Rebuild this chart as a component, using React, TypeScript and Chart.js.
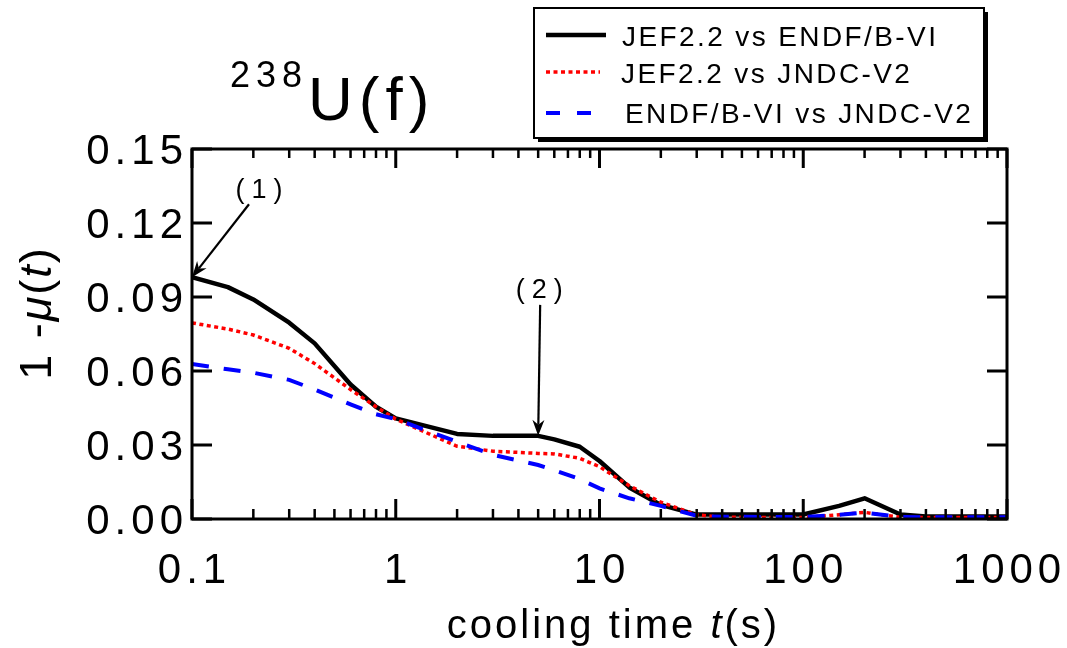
import React, { useEffect, useRef } from "react";
import { Chart, registerables } from "chart.js";

Chart.register(...registerables);

// ---- data ----
const coolingTimes = [0.1, 0.15, 0.2, 0.3, 0.4, 0.6, 0.8, 1, 2, 3, 5, 6, 8, 10, 14, 20, 30, 40, 100, 150, 200, 300, 400, 1000];
const jefVsEndf = [0.098, 0.094, 0.089, 0.0796, 0.0712, 0.0545, 0.0455, 0.0408, 0.0345, 0.0337, 0.0337, 0.0323, 0.0293, 0.0235, 0.0128, 0.0057, 0.0018, 0.0018, 0.0018, 0.0053, 0.0084, 0.0018, 0.001, 0.001];
const jefVsJndc = [0.0795, 0.077, 0.0746, 0.0692, 0.063, 0.0525, 0.0455, 0.0405, 0.0295, 0.0275, 0.0266, 0.0264, 0.0246, 0.0212, 0.0135, 0.0068, 0.0017, 0.0007, 0.0006, 0.0017, 0.0027, 0.0007, 0.0006, 0.0006];
const endfVsJndc = [0.0628, 0.0607, 0.0593, 0.0564, 0.0525, 0.0465, 0.0425, 0.0405, 0.0313, 0.026, 0.0219, 0.0198, 0.0162, 0.0124, 0.0084, 0.0053, 0.0013, 0.0009, 0.0008, 0.0017, 0.0026, 0.0008, 0.0007, 0.0007];

const seriesNames = ["JEF2.2 vs ENDF/B-VI", "JEF2.2 vs JNDC-V2", "ENDF/B-VI vs JNDC-V2"];
const seriesColors = ["#000000", "#ff0000", "#0000ff"];

const xTickValues = [0.1, 1, 10, 100, 1000];
const xTickLabels = ["0.1", "1", "10", "100", "1000"];
const xMinorMultipliers = [2, 3, 4, 5, 6, 7, 8, 9];
const yTickValues = [0, 0.03, 0.06, 0.09, 0.12, 0.15];
const yTickLabels = ["0.00", "0.03", "0.06", "0.09", "0.12", "0.15"];

const annotations = [
  { label: "(1)", x: 0.1, y: 0.098, textDx: 67, textDy: -79, fromDx: 57, fromDy: -73 },
  { label: "(2)", x: 5, y: 0.0337, textDx: 1, textDy: -138, fromDx: 2, fromDy: -131 },
];

const FONT = '"Liberation Sans", Arial, Helvetica, sans-serif';

function drawSpaced(ctx: CanvasRenderingContext2D, text: string, x: number, y: number, spacing: number, align: "left" | "center" | "right") {
  const chars = Array.from(text);
  const widths = chars.map((c) => ctx.measureText(c).width);
  const total = widths.reduce((a, b) => a + b, 0) + spacing * (chars.length - 1);
  let cx = align === "center" ? x - total / 2 : align === "right" ? x - total : x;
  ctx.textAlign = "left";
  chars.forEach((c, i) => {
    ctx.fillText(c, cx, y);
    cx += widths[i] + spacing;
  });
  return total;
}

function spacedWidth(ctx: CanvasRenderingContext2D, text: string, spacing: number) {
  const chars = Array.from(text);
  return chars.reduce((a, c) => a + ctx.measureText(c).width, 0) + spacing * (chars.length - 1);
}

function arrow(ctx: CanvasRenderingContext2D, x1: number, y1: number, x2: number, y2: number) {
  const ang = Math.atan2(y2 - y1, x2 - x1);
  const len = 16;
  const hw = 6;
  ctx.beginPath();
  ctx.moveTo(x1, y1);
  ctx.lineTo(x2 - Math.cos(ang) * len * 0.7, y2 - Math.sin(ang) * len * 0.7);
  ctx.lineWidth = 2.2;
  ctx.strokeStyle = "#000";
  ctx.stroke();
  ctx.beginPath();
  ctx.moveTo(x2, y2);
  ctx.lineTo(x2 - Math.cos(ang) * len - Math.sin(ang) * hw, y2 - Math.sin(ang) * len + Math.cos(ang) * hw);
  ctx.lineTo(x2 - Math.cos(ang) * len * 0.7, y2 - Math.sin(ang) * len * 0.7);
  ctx.lineTo(x2 - Math.cos(ang) * len + Math.sin(ang) * hw, y2 - Math.sin(ang) * len - Math.cos(ang) * hw);
  ctx.closePath();
  ctx.fillStyle = "#000";
  ctx.fill();
}

const decorPlugin = {
  id: "decor",
  afterDatasetsDraw(chart: any) {
    const ctx: CanvasRenderingContext2D = chart.ctx;
    const { left, right, top, bottom } = chart.chartArea;
    const xs = chart.scales.x;
    const ys = chart.scales.y;
    ctx.save();
    ctx.fillStyle = "#000";
    ctx.strokeStyle = "#000";
    ctx.textBaseline = "alphabetic";

    // frame
    ctx.lineWidth = 3;
    ctx.strokeRect(left, top, right - left, bottom - top);

    // x ticks (bottom + top)
    xTickValues.forEach((v, i) => {
      const px = xs.getPixelForValue(v);
      ctx.lineWidth = 3;
      ctx.beginPath();
      ctx.moveTo(px, bottom);
      ctx.lineTo(px, bottom - 20);
      ctx.moveTo(px, top);
      ctx.lineTo(px, top + 19);
      ctx.stroke();
      if (i < xTickValues.length - 1) {
        xMinorMultipliers.forEach((m) => {
          const mx = xs.getPixelForValue(v * m);
          ctx.lineWidth = 2.5;
          ctx.beginPath();
          ctx.moveTo(mx, bottom);
          ctx.lineTo(mx, bottom - 10);
          ctx.moveTo(mx, top);
          ctx.lineTo(mx, top + 9);
          ctx.stroke();
        });
      }
    });
    // x tick labels
    ctx.font = `42px ${FONT}`;
    xTickValues.forEach((v, i) => {
      drawSpaced(ctx, xTickLabels[i], xs.getPixelForValue(v), 583, 5, "center");
    });

    // y ticks (left + right)
    yTickValues.forEach((v, i) => {
      const py = ys.getPixelForValue(v);
      ctx.lineWidth = 3;
      ctx.beginPath();
      ctx.moveTo(left, py);
      ctx.lineTo(left + 20, py);
      ctx.moveTo(right, py);
      ctx.lineTo(right - 20, py);
      ctx.stroke();
      ctx.font = `42px ${FONT}`;
      drawSpaced(ctx, yTickLabels[i], 183, py + 15, 5, "right");
    });

    // x axis title
    {
      ctx.font = `40px ${FONT}`;
      const sp = 3;
      const p1 = "cooling time ";
      const p2 = "t";
      const p3 = "(s)";
      const w1 = spacedWidth(ctx, p1, sp) + sp;
      ctx.font = `italic 40px ${FONT}`;
      const w2 = spacedWidth(ctx, p2, sp) + sp;
      ctx.font = `40px ${FONT}`;
      const w3 = spacedWidth(ctx, p3, sp);
      let x0 = 612 - (w1 + w2 + w3) / 2;
      const yb = 638;
      drawSpaced(ctx, p1, x0, yb, sp, "left");
      x0 += w1;
      ctx.font = `italic 40px ${FONT}`;
      drawSpaced(ctx, p2, x0, yb, sp, "left");
      x0 += w2;
      ctx.font = `40px ${FONT}`;
      drawSpaced(ctx, p3, x0, yb, sp, "left");
    }

    // y axis title (rotated)
    {
      ctx.save();
      ctx.translate(51, 313);
      ctx.rotate(-Math.PI / 2);
      const parts: [string, boolean][] = [["1 -", false], ["\u03bc", true], ["(", false], ["t", true], [")", false]];
      const sp = 2;
      let total = 0;
      const ws = parts.map(([t, it]) => {
        ctx.font = `${it ? "italic " : ""}45px ${FONT}`;
        const w = spacedWidth(ctx, t, sp) + sp;
        total += w;
        return w;
      });
      let x0 = -total / 2;
      parts.forEach(([t, it], i) => {
        ctx.font = `${it ? "italic " : ""}45px ${FONT}`;
        drawSpaced(ctx, t, x0, 0, sp, "left");
        x0 += ws[i];
      });
      ctx.restore();
    }

    // chart title 238U(f)
    ctx.font = `36px ${FONT}`;
    drawSpaced(ctx, "238", 230, 87, 6, "left");
    ctx.font = `62px ${FONT}`;
    drawSpaced(ctx, "U(f)", 308, 120, 6, "left");

    // legend
    {
      const bx = 534, by = 8, bw = 450, bh = 130;
      ctx.fillStyle = "#000";
      ctx.fillRect(bx + 4, by + 4, bw, bh);
      ctx.fillStyle = "#fff";
      ctx.fillRect(bx, by, bw, bh);
      ctx.lineWidth = 2;
      ctx.strokeStyle = "#000";
      ctx.strokeRect(bx, by, bw, bh);
      const rows = [
        { y: 35, tx: 622, ty: 46, x2: 606, dash: [] as number[], w: 4.5 },
        { y: 72, tx: 621, ty: 83, x2: 600, dash: [4, 3.5], w: 3.5 },
        { y: 113, tx: 625, ty: 123, x2: 606, dash: [14, 17], w: 4 },
      ];
      rows.forEach((r, i) => {
        ctx.save();
        ctx.strokeStyle = seriesColors[i];
        ctx.lineWidth = r.w;
        ctx.setLineDash(r.dash);
        ctx.lineCap = "butt";
        ctx.beginPath();
        ctx.moveTo(546, r.y);
        ctx.lineTo(r.x2, r.y);
        ctx.stroke();
        ctx.restore();
        ctx.fillStyle = "#000";
        ctx.font = `28px ${FONT}`;
        drawSpaced(ctx, seriesNames[i], r.tx, r.ty, 2.4, "left");
      });
    }

    // annotations
    annotations.forEach((a) => {
      const px = xs.getPixelForValue(a.x);
      const py = ys.getPixelForValue(a.y);
      ctx.fillStyle = "#000";
      ctx.font = `27px ${FONT}`;
      drawSpaced(ctx, a.label, px + a.textDx, py + a.textDy, 7, "center");
      arrow(ctx, px + a.fromDx, py + a.fromDy, px, py);
    });

    ctx.restore();
  },
};

export default function App() {
  const ref = useRef<HTMLCanvasElement | null>(null);
  useEffect(() => {
    if (!ref.current) return;
    const mk = (vals: number[]) => coolingTimes.map((t, i) => ({ x: t, y: vals[i] }));
    const chart = new Chart(ref.current, {
      type: "line",
      data: {
        datasets: [
          { label: seriesNames[0], data: mk(jefVsEndf), borderColor: seriesColors[0], borderWidth: 4.5, pointRadius: 0, tension: 0, order: 3, borderJoinStyle: "round" },
          { label: seriesNames[1], data: mk(jefVsJndc), borderColor: seriesColors[1], borderWidth: 3.5, borderDash: [4, 3.5], pointRadius: 0, tension: 0, order: 2 },
          { label: seriesNames[2], data: mk(endfVsJndc), borderColor: seriesColors[2], borderWidth: 4, borderDash: [17, 15], pointRadius: 0, tension: 0, order: 1 },
        ],
      },
      options: {
        animation: false,
        responsive: false,
        events: [],
        layout: { padding: { left: 192, top: 149, right: 60, bottom: 129 } },
        scales: {
          x: { type: "logarithmic", min: 0.1, max: 1000, display: false },
          y: { type: "linear", min: 0, max: 0.15, display: false },
        },
        plugins: { legend: { display: false }, tooltip: { enabled: false }, title: { display: false } },
      },
      plugins: [decorPlugin],
    } as any);
    return () => chart.destroy();
  }, []);
  return (
    <div style={{ position: "absolute", left: 0, top: 0, width: 1067, height: 648, background: "#fff" }}>
      <canvas ref={ref} width={1067} height={648} style={{ width: 1067, height: 648, display: "block" }} />
    </div>
  );
}
